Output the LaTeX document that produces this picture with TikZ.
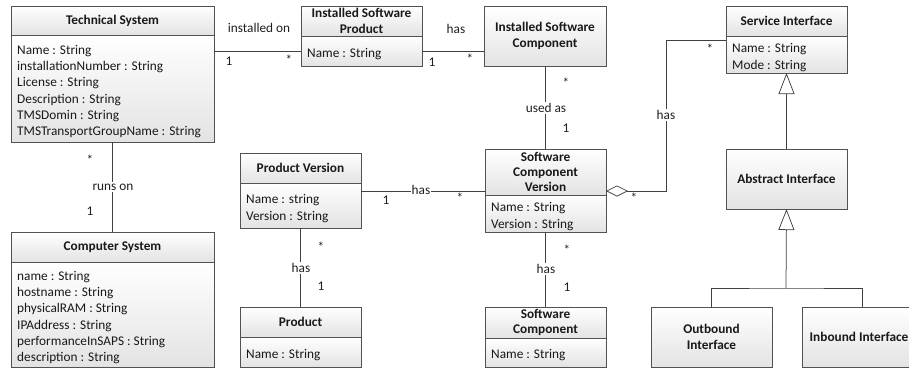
\documentclass[tikz,border=0pt]{standalone}
\usepackage{fontspec}
\setmainfont{Carlito}
\usetikzlibrary{arrows.meta,calc}

\tikzset{
  comp/.style={draw=black!68, line width=0.75pt, top color=white, bottom color=black!11,
               inner sep=0pt, outer sep=0pt},
  ttl/.style={font=\bfseries\fontsize{13.3}{15.3}\selectfont, align=center, text=black!90,
              inner sep=0pt},
  attr/.style={font=\fontsize{13.3}{16.2}\selectfont, align=left, text=black!90, inner sep=0pt},
  frame/.style={inner sep=0pt, outer sep=0pt},
  assoc/.style={draw=black!75, line width=0.75pt},
  lbl/.style={font=\fontsize{13.3}{16}\selectfont, text=black!88, inner sep=1pt},
  onl/.style={lbl, fill=white, inner sep=1.5pt},
  gen/.style={assoc, -{Triangle[open, length=21pt, width=16pt, line width=0.75pt]}},
  agg/.style={assoc, {Diamond[open, length=22pt, width=11pt, line width=0.75pt]}-},
}

% class with a title compartment and an attribute compartment
% #1 name, #2 left, #3 top, #4 right, #5 divider, #6 bottom, #7 title, #8 attributes
\newcommand\umlclass[8]{%
  \node[comp, anchor=north west, minimum width={#4-#2}, minimum height={#5-#3}] (#1-h) at (#2,#3) {};
  \node[ttl] (#1-t) at (#1-h.center) {#7};
  \node[comp, anchor=north west, minimum width={#4-#2}, minimum height={#6-#5}] (#1-a) at (#2,#5) {};
  \node[attr, anchor=west] (#1-l) at ([xshift=6pt, yshift=-3pt]#1-a.west) {#8};
  \node[frame, anchor=north west, minimum width={#4-#2}, minimum height={#6-#3}] (#1) at (#2,#3) {};
}
% class with a single compartment
% #1 name, #2 left, #3 top, #4 right, #5 bottom, #6 title
\newcommand\umlplain[6]{%
  \node[comp, anchor=north west, minimum width={#4-#2}, minimum height={#5-#3}] (#1) at (#2,#3) {};
  \node[ttl] (#1-t) at (#1.center) {#6};
}

\begin{document}
\begin{tikzpicture}[x=1pt, y=-1pt]
\useasboundingbox (0,0) rectangle (909,368);
\clip (0,0) rectangle (909,368);

% classes
\umlclass{ts}{11}{6}{214}{35}{142}{Technical System}
  {Name : String\\installationNumber : String\\License : String\\Description : String\\TMSDomin : String\\TMSTransportGroupName : String}
\umlclass{isp}{301}{6}{422}{36}{66}{Installed Software\\Product}{Name : String}
\umlplain{isc}{484}{6}{606}{66}{Installed Software\\Component}
\umlclass{si}{726}{6}{847}{36}{73}{Service Interface}{Name : String\\Mode : String}

\umlclass{pv}{240}{153}{361}{183}{228}{Product Version}{Name : string\\Version : String}
\umlclass{scv}{485}{149}{606}{195}{232}{Software\\Component\\Version}{Name : String\\Version : String}
\umlplain{ai}{726}{149}{847}{209}{Abstract Interface}

\umlclass{cs}{11}{232}{214}{262}{367}{Computer System}
  {name : String\\hostname : String\\physicalRAM : String\\IPAddress : String\\performanceInSAPS : String\\description : String}
\umlclass{p}{240}{307}{361}{337}{367}{Product}{Name : String}
\umlclass{sc}{485}{307}{606}{338}{367}{Software\\Component}{Name : String}
\umlplain{oi}{651}{307}{772}{367}{Outbound\\Interface}
% the right edge of this box runs past the page, its title sits just inside
\node[comp, anchor=north west, minimum width=121, minimum height=60] (ii) at (802,307) {};
\node[ttl, anchor=east] (ii-t) at (908.5,337) {Inbound Interface};

% associations
\draw[assoc] ([yshift=-45pt]ts.north east) coordinate (tsr) -- (tsr -| isp.west);
\draw[assoc] ([yshift=-45pt]isp.north east) coordinate (ispr) -- (ispr -| isc.west);
\draw[assoc] (isc.south) -- (isc.south |- scv.north);
\draw[assoc] (ts.south) -- (ts.south |- cs.north);
\draw[assoc] ([yshift=-38pt]pv.north east) coordinate (pvr) -- (pvr -| scv.west);
\draw[assoc] (pv.south) -- (pv.south |- p.north);
\draw[assoc] (scv.south) -- (scv.south |- sc.north);

% aggregation to the service interface
\coordinate (aggbend) at (666,40);
\draw[agg] ([yshift=-42pt]scv.north east) -| (aggbend) -- (aggbend -| si.west);

% generalizations
\draw[gen] (ai.north) -- (si.south);
\coordinate (genjoin) at (786,288);
\draw[assoc] (oi.north) |- (genjoin) -| (ii.north);
\draw[gen] (genjoin) -- (ai.south);

% association labels and multiplicities
\node[lbl] (l-inst) at (259,28) {installed on};
\node[lbl] (m-inst1) at (229,61) {1};
\node[lbl] (m-inst2) at (289,60) {*};

\node[lbl] (l-has1) at (456,29) {has};
\node[lbl] (m-has1a) at (432,62) {1};
\node[lbl] (m-has1b) at (470,59) {*};

\node[lbl] (m-used1) at (566,83) {*};
\node[onl] (l-used) at (546,108) {used as};
\node[lbl] (m-used2) at (566,128) {1};

\node[lbl] (m-runs1) at (90,160) {*};
\node[onl] (l-runs) at (113,187) {runs on};
\node[lbl] (m-runs2) at (90,211) {1};

\node[onl, inner xsep=0.5pt] (l-has2) at (421,190) {has};
\node[lbl] (m-has2a) at (386,200) {1};
\node[lbl] (m-has2b) at (460,198) {*};

\node[lbl] (m-has3a) at (321,247) {*};
\node[onl] (l-has3) at (301,268) {has};
\node[lbl] (m-has3b) at (321,286) {1};

\node[lbl] (m-has4a) at (567,250) {*};
\node[onl] (l-has4) at (546,269) {has};
\node[lbl] (m-has4b) at (567,287) {1};

\node[lbl] (m-agg1) at (634,198) {*};
\node[onl] (l-agg) at (666,115) {has};
\node[lbl] (m-agg2) at (710,49) {*};
\end{tikzpicture}
\end{document}
